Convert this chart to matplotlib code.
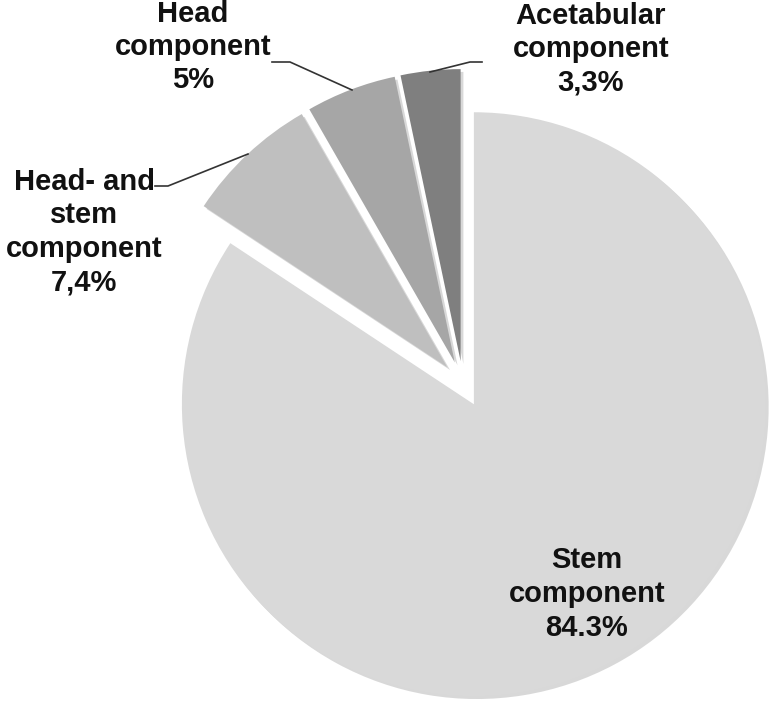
import matplotlib
matplotlib.use("Agg")
import matplotlib.pyplot as plt
import matplotlib.patheffects as pe

# Data
labels = ["Stem\ncomponent\n84.3%", "Head- and\nstem\ncomponent\n7,4%",
          "Head\ncomponent\n5%", "Acetabular\ncomponent\n3,3%"]
values = [84.3, 7.4, 5.0, 3.3]
colors = ["#d9d9d9", "#bfbfbf", "#a6a6a6", "#7f7f7f"]

# label anchor points (pixels from top-left) and leader lines
label_pos = [(587, 594), (84, 232), (193, 47), (591, 49)]
leaders = [None,
           [(155, 186), (168, 186), (248, 154)],
           [(272, 62), (290, 62), (352, 90)],
           [(482, 62), (470, 62), (430, 72)]]

W, H = 774, 709
fig = plt.figure(figsize=(W / 100, H / 100), dpi=100)
ax = fig.add_axes([0, 0, 1, 1])

shadow = [pe.SimplePatchShadow(offset=(2, -2), shadow_rgbFace="#808080", alpha=0.3),
          pe.Normal()]
ax.pie(values, colors=colors, startangle=90, counterclock=False,
       center=(463, H - 384), radius=292, explode=[23] * 4,
       wedgeprops=dict(linewidth=0, path_effects=shadow))

ax.set_xlim(0, W)
ax.set_ylim(0, H)
ax.set_aspect("equal")
ax.axis("off")

for lab, (x, y) in zip(labels, label_pos):
    ax.text(x, H - y, lab, ha="center", va="center", multialignment="center",
            fontsize=21, fontweight="bold", family="Liberation Sans",
            color="#111111", linespacing=1.25)

for pts in leaders:
    if pts is None:
        continue
    xs = [p[0] for p in pts]
    ys = [H - p[1] for p in pts]
    ax.plot(xs, ys, color="#333333", lw=1.2)

fig.savefig("out.png", dpi=100)
